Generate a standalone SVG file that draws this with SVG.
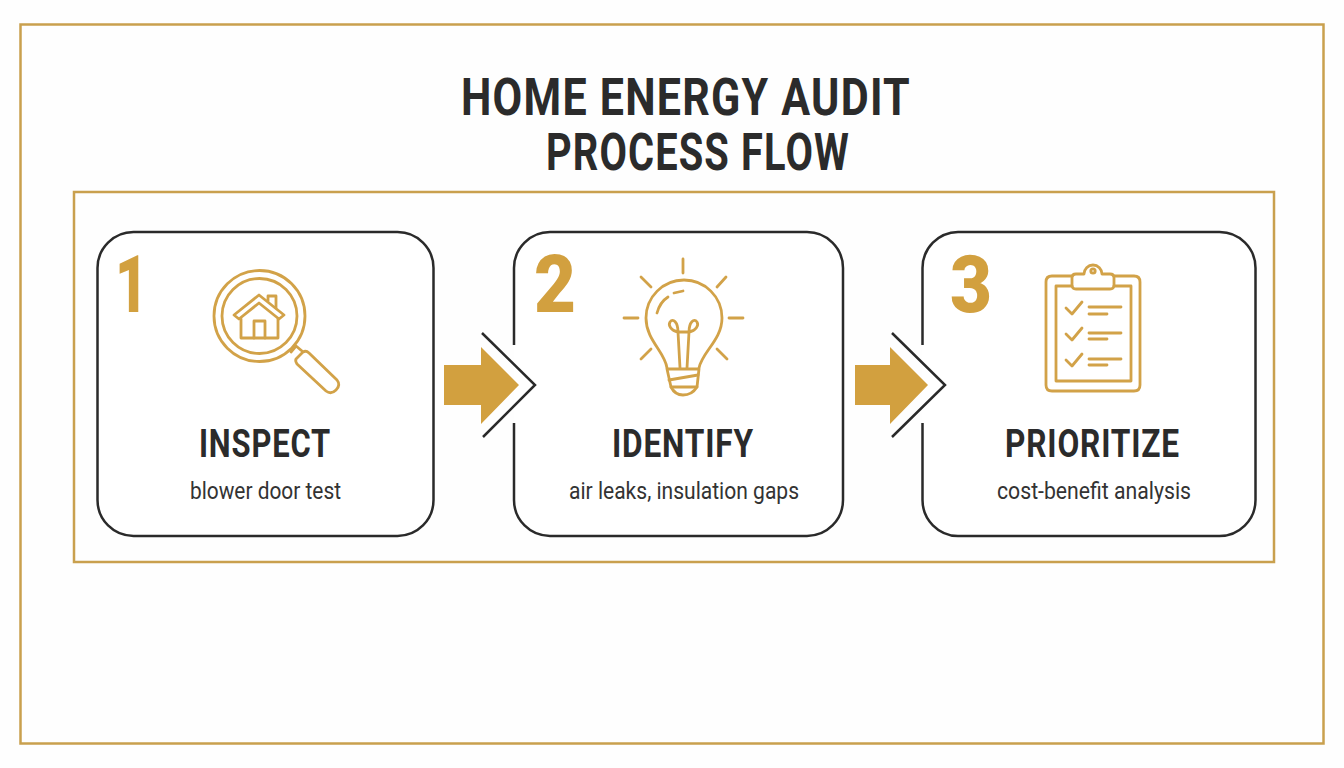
<svg xmlns="http://www.w3.org/2000/svg" width="1344" height="768" viewBox="0 0 1344 768">
<style>
.frame{fill:none;stroke:#c9a04e;stroke-width:2.5}
.card{fill:#fff;stroke:#2a2a2a;stroke-width:2.5}
.ic{fill:none;stroke:#d2a248;stroke-width:2.8;stroke-linecap:round;stroke-linejoin:round}
.arrow{fill:#d2a03f}
.chev{fill:none;stroke:#2a2a2a;stroke-width:2.5}
text{font-family:Roboto,"Liberation Sans",sans-serif}
.title{font-size:52px;font-weight:700;fill:#2b2b2b;letter-spacing:1.5px}
.num{font-size:80px;font-weight:900;fill:#d2a03f}
.head{font-size:38px;font-weight:700;fill:#2b2b2b;letter-spacing:1px}
.sub{font-size:24px;font-weight:400;fill:#333}
</style>
<rect width="1344" height="768" fill="#fefefe"/>
<rect class="frame" x="20.500" y="24.500" width="1303" height="719"/>
<g id="title">
<text class="title" x="461" y="115" textLength="450" lengthAdjust="spacingAndGlyphs">HOME ENERGY AUDIT</text>
<text class="title" x="546" y="170" textLength="304" lengthAdjust="spacingAndGlyphs">PROCESS FLOW</text>
</g>
<rect class="frame" x="74" y="192" width="1200" height="370"/>
<g id="step1">
<rect class="card" x="97.500" y="232" width="336" height="304" rx="36"/>
<text class="num" x="115" y="312" textLength="33" lengthAdjust="spacingAndGlyphs">1</text>
<g class="ic">
<circle cx="259.500" cy="316" r="45.500"/>
<circle cx="259.500" cy="316" r="37.500"/>
<path d="M234 315 L259 295 L284 315 L279 319 L259 303 L239 319 Z"/>
<path d="M241 319 V338 H278 V319"/>
<path d="M254 338 V321 H265 V338"/>
<path d="M268 301 V296 H276 V308"/>
<path d="M291 352 L296 346 L302 351"/>
<path d="M296 359 L303 352 Q306 350 309 353 L337 380 Q341 385 336 390 Q331 395 326 391 L297 364 Q295 361 296 359 Z"/>
</g>
<text class="head" x="199" y="457" textLength="132" lengthAdjust="spacingAndGlyphs">INSPECT</text>
<text class="sub" x="190" y="499" textLength="151" lengthAdjust="spacingAndGlyphs">blower door test</text>
</g>
<g id="step2">
<path class="card" d="M514 345 V268 A36 36 0 0 1 550 232 H807 A36 36 0 0 1 843 268 V500 A36 36 0 0 1 807 536 H550 A36 36 0 0 1 514 500 V423"/>
<text class="num" x="534" y="312" textLength="42" lengthAdjust="spacingAndGlyphs">2</text>
<g class="ic">
<path d="M667 368 C665 352 646 340 646 318 A37 37 0 0 1 722 318 C722 340 702 352 699 368"/>
<path d="M657 313 Q660 302 668 297 M674 293 L683 291"/>
<path d="M678 332 L680 368 M689 332 L687 368 M678 332 H689"/>
<path d="M678 332 C671 331 668 325 670 322 C673 318 678 322 678 332 M689 332 C696 331 699 325 697 322 C694 318 689 322 689 332"/>
<path d="M667 369 H699 L697 387 Q692 395 683 395 Q675 395 671 387 Z"/>
<path d="M669 380 L698 375 M671 387 H697"/>
<path d="M683 259 V273 M624 318 H638 M729 318 H743 M641 277 L651 287 M726 277 L717 287 M641 359 L651 349 M727 359 L717 349"/>
</g>
<text class="head" x="612" y="457" textLength="142" lengthAdjust="spacingAndGlyphs">IDENTIFY</text>
<text class="sub" x="569" y="499" textLength="230" lengthAdjust="spacingAndGlyphs">air leaks, insulation gaps</text>
</g>
<g id="step3">
<path class="card" d="M922.500 345 V268 A36 36 0 0 1 958 232 H1219 A36 36 0 0 1 1255.500 268 V500 A36 36 0 0 1 1219 536 H958 A36 36 0 0 1 922.500 500 V423"/>
<text class="num" x="950" y="312" textLength="42" lengthAdjust="spacingAndGlyphs">3</text>
<g class="ic">
<path d="M1072 276 H1052 Q1046 276 1046 282 V385 Q1046 391 1052 391 H1134 Q1140 391 1140 385 V282 Q1140 276 1134 276 H1114"/>
<path d="M1072 286 H1056 V381 H1131 V286 H1114"/>
<path d="M1084 274 A9 9 0 0 1 1102 274 H1110 Q1114 274 1114 278 V285 Q1114 289 1110 289 H1076 Q1072 289 1072 285 V278 Q1072 274 1076 274 Z"/>
<circle cx="1093" cy="271" r="2.200"/>
<path d="M1066 308 L1072 314 L1082 302 M1066 334 L1072 340 L1082 328 M1066 360 L1072 366 L1082 354"/>
<path d="M1089 307 H1121 M1089 314 H1107 M1089 333 H1121 M1089 339 H1107 M1089 359 H1121 M1089 365 H1107"/>
</g>
<text class="head" x="1005" y="457" textLength="175" lengthAdjust="spacingAndGlyphs">PRIORITIZE</text>
<text class="sub" x="997" y="499" textLength="194" lengthAdjust="spacingAndGlyphs">cost-benefit analysis</text>
</g>
<g id="connectors">
<path class="arrow" d="M444 365 H481 V347 L519 385 L481 424 V405 H444 Z"/>
<path class="chev" d="M482 333 L535 385 L483 437"/>
<path class="arrow" d="M855 365 H890 V347 L928 385 L890 424 V405 H855 Z"/>
<path class="chev" d="M892 333 L945 385 L892 437"/>
</g>
</svg>
